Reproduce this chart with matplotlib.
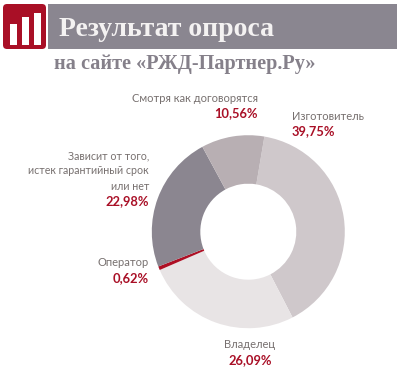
# encoding=utf-8
import matplotlib
matplotlib.use('Agg')
import matplotlib.pyplot as plt
from matplotlib.patches import Rectangle, FancyBboxPatch

names = ['Изготовитель', 'Владелец', 'Оператор',
         'Зависит от того,\nистек гарантийный срок\nили нет', 'Смотря как договорятся']
values = [39.75, 26.09, 0.62, 22.98, 10.56]
value_labels = ['39,75%', '26,09%', '0,62%', '22,98%', '10,56%']
colors = ['#cfc8cb', '#e8e4e5', '#ae0f24', '#8b8690', '#b8afb3']
logo_bars = [21, 28, 32]  # высота столбиков на значке

plt.rcParams['font.family'] = ['Lato', 'DejaVu Sans']
H = 384
RED = '#a90f26'
GREY = '#77706f'
LABEL = 8.0
PCT = 9.3

fig = plt.figure(figsize=(4, 3.84), dpi=100)
ax = fig.add_axes([0, 0, 1, 1])

wedges, _ = ax.pie(values, colors=colors, startangle=80.4, counterclock=False,
                   center=(248.3, H - 231.7), radius=96.5,
                   wedgeprops=dict(width=48.5, linewidth=0), frame=True)
ax.set_xlim(0, 400)
ax.set_ylim(0, H)
ax.axis('off')

# шапка
ax.add_patch(Rectangle((48, H - 49), 349, 45, color='#8a8690', lw=0))
ax.add_patch(FancyBboxPatch((3, H - 49), 43, 45, boxstyle='round,pad=0,rounding_size=4',
                            color=RED, lw=0))
for x, h in zip([10, 22, 34], logo_bars):
    ax.add_patch(Rectangle((x, H - 44.7), 7, h, color='white', lw=0))
ax.text(59, H - 30, 'Результат опроса', color='#f4f2f2', fontsize=20, fontweight='bold',
        family=['Liberation Serif'], va='center', ha='left')
ax.text(54, H - 64, 'на сайте «РЖД-Партнер.Ру»', color='#85808a', fontsize=14.6,
        fontweight='bold', family=['Liberation Serif'], va='center', ha='left')

# подписи
ax.text(258, H - 98, names[4], color=GREY, fontsize=LABEL, ha='right', va='center')
ax.text(258, H - 113, value_labels[4], color=RED, fontsize=PCT, fontweight='bold', ha='right', va='center')
ax.text(292, H - 116, names[0], color=GREY, fontsize=LABEL, ha='left', va='center')
ax.text(292, H - 131, value_labels[0], color=RED, fontsize=PCT, fontweight='bold', ha='left', va='center')
ax.text(149, H - 171, names[3], color=GREY, fontsize=7.7, ha='right', va='center', linespacing=1.45,
        multialignment='right')
ax.text(149, H - 201, value_labels[3], color=RED, fontsize=PCT, fontweight='bold', ha='right', va='center')
ax.text(149, H - 263, names[2], color=GREY, fontsize=LABEL, ha='right', va='center')
ax.text(149, H - 278, value_labels[2], color=RED, fontsize=PCT, fontweight='bold', ha='right', va='center')
ax.text(250, H - 345, names[1], color=GREY, fontsize=LABEL, ha='center', va='center')
ax.text(250, H - 360, value_labels[1], color=RED, fontsize=PCT, fontweight='bold', ha='center', va='center')

fig.savefig('out.png', dpi=100)
